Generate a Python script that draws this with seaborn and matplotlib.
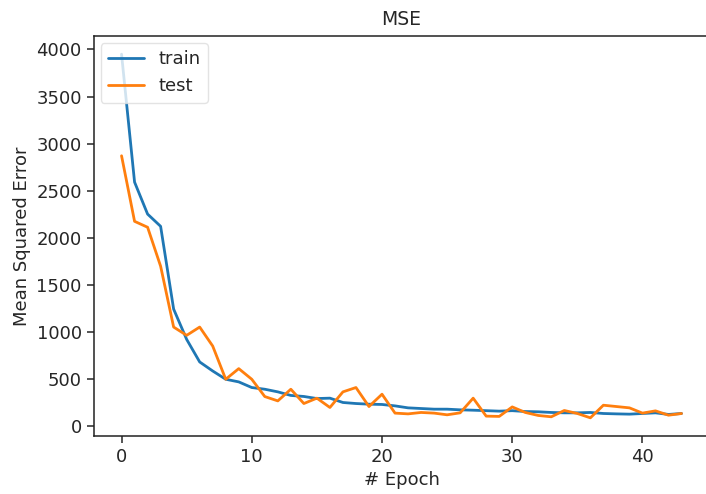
import matplotlib
matplotlib.use("Agg")
import matplotlib.pyplot as plt
import numpy as np
import pandas as pd
import seaborn as sns

# Training history: mean squared error per epoch
epochs = list(range(44))
train_mse = [3950, 2590, 2250, 2120, 1240, 918, 678, 582, 494, 466,
             406, 388, 360, 322, 311, 289, 293, 247, 236, 229,
             226, 211, 190, 183, 176, 176, 169, 165, 160, 155,
             160, 151, 148, 141, 137, 137, 141, 130, 126, 123,
             130, 137, 120, 130]
test_mse = [2870, 2173, 2110, 1696, 1049, 961, 1049, 847, 494, 607,
            494, 310, 264, 388, 236, 293, 194, 360, 406, 204,
            335, 134, 126, 141, 134, 116, 137, 293, 102, 99,
            200, 141, 109, 95, 162, 130, 84, 218, 204, 190,
            134, 158, 112, 130]

df = pd.DataFrame({
    "epoch": epochs * 2,
    "mse": train_mse + test_mse,
    "split": ["train"] * len(epochs) + ["test"] * len(epochs),
})

sns.set_style("ticks")
plt.rcParams["font.family"] = ["DejaVu Sans"]

fig = plt.figure(figsize=(7.06, 4.94), dpi=100)
ax = fig.add_axes([0.1325, 0.1174, 0.8725, 0.8097])

sns.lineplot(data=df, x="epoch", y="mse", hue="split",
             palette=["#1f77b4", "#ff7f0e"], linewidth=2.0, ax=ax)

ax.set_title("MSE", fontsize=13.5, pad=8)
ax.set_xlabel("# Epoch", fontsize=13)
ax.set_ylabel("Mean Squared Error", fontsize=13)
ax.tick_params(labelsize=13, length=5, width=1.1)
ax.set_xticks([0, 10, 20, 30, 40])
ax.set_yticks(np.arange(0, 4001, 500))
for s in ax.spines.values():
    s.set_visible(True)
    s.set_linewidth(1.1)
    s.set_color("#222222")

leg = ax.legend(loc="upper left", fontsize=13, frameon=True, framealpha=0.8,
                borderaxespad=0.4, handlelength=2.0)
leg.get_frame().set_edgecolor("#dddddd")

fig.savefig("out.png", dpi=100)
